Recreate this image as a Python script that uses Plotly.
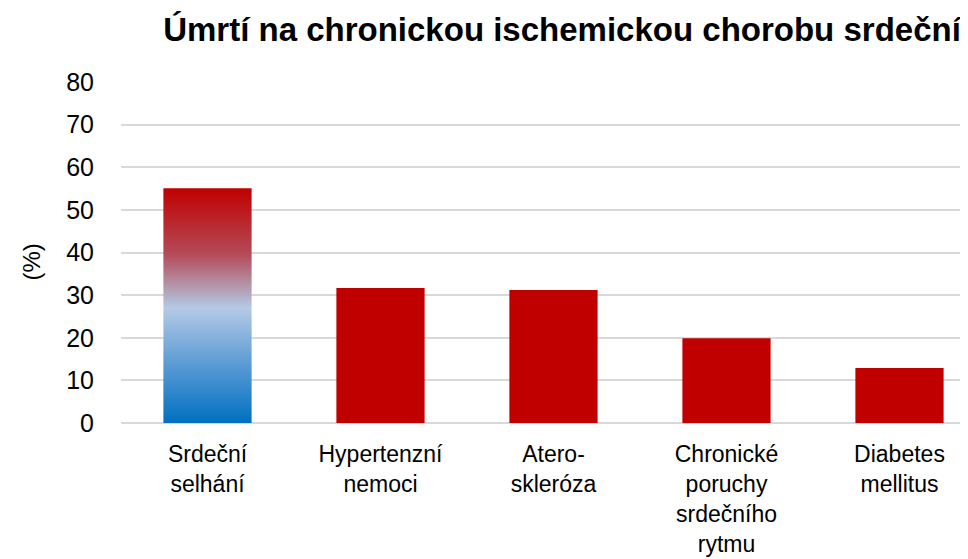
import plotly.graph_objects as go

categories = ["Srdeční<br>selhání", "Hypertenzní<br>nemoci", "Atero-<br>skleróza",
              "Chronické<br>poruchy<br>srdečního<br>rytmu", "Diabetes<br>mellitus"]
values = [55.1, 31.7, 31.2, 19.9, 12.9]
y_ticks = [0, 10, 20, 30, 40, 50, 60, 70, 80]

RED = "#C00000"
BAR_W = 0.51
FONT = "Liberation Sans, Arial, sans-serif"

# page body has an 8px margin: figure coordinates are visible coordinates minus 8
L, T, R, B = 112.5, 74, 8, 144
W, H = 968, 559
CAT_W = 173.1

xs = list(range(len(categories)))
colors = ["rgba(0,0,0,0)"] + [RED] * (len(values) - 1)

fig = go.Figure()
fig.add_trace(go.Bar(x=xs, y=values, width=BAR_W, marker=dict(color=colors, line=dict(width=0)),
                     showlegend=False, hoverinfo="y"))

# gradient overlay on first bar, derived from its data value
x0, v0 = xs[0], values[0]
fig.add_trace(go.Scatter(
    x=[x0 - BAR_W / 2, x0 + BAR_W / 2, x0 + BAR_W / 2, x0 - BAR_W / 2, x0 - BAR_W / 2],
    y=[0, 0, v0, v0, 0],
    mode="lines", line=dict(width=0, color="rgba(0,0,0,0)"),
    fill="toself",
    fillgradient=dict(type="vertical", start=0, stop=v0,
                      colorscale=[[0, "#0070C0"], [0.25, "#5B9BD5"], [0.49, "#B4CAE6"],
                                  [0.56, "#B3A3B8"], [0.72, "#B44A58"], [1, "#C00000"]]),
    showlegend=False, hoverinfo="skip"))

plot_w = W - L - R
plot_h = H - T - B

fig.update_layout(
    width=W, height=H,
    margin=dict(l=L, r=R, t=T, b=B, autoexpand=False),
    plot_bgcolor="white", paper_bgcolor="white",
    font=dict(family=FONT, size=24, color="#000000"),
    title=dict(text="<b>Úmrtí na chronickou ischemickou chorobu srdeční</b>",
               font=dict(family=FONT, size=33, color="#000000"),
               x=554 / W, xref="container", xanchor="center",
               y=1 - 21 / H, yref="container", yanchor="middle"),
    showlegend=False,
    annotations=[dict(text="(%)", textangle=-90, showarrow=False,
                      xref="paper", yref="paper",
                      x=(22 - L) / plot_w, y=(H - B - 254) / plot_h,
                      xanchor="center", yanchor="middle",
                      font=dict(family=FONT, size=24, color="#000000"))],
)
fig.update_xaxes(range=[-0.5, -0.5 + plot_w / CAT_W], tickvals=xs, ticktext=categories,
                 showgrid=False, showline=False, zeroline=False, ticks="", automargin=False,
                 tickfont=dict(family=FONT, size=23), ticklabelstandoff=15, fixedrange=True)
fig.update_yaxes(range=[0, 80], tickvals=y_ticks, showgrid=True, gridcolor="#D9D9D9", gridwidth=1.5,
                 zeroline=True, zerolinecolor="#D9D9D9", zerolinewidth=1.5, showline=False, ticks="",
                 automargin=False,
                 tickfont=dict(family=FONT, size=25), ticklabelstandoff=26)

fig.write_html("out.html")
